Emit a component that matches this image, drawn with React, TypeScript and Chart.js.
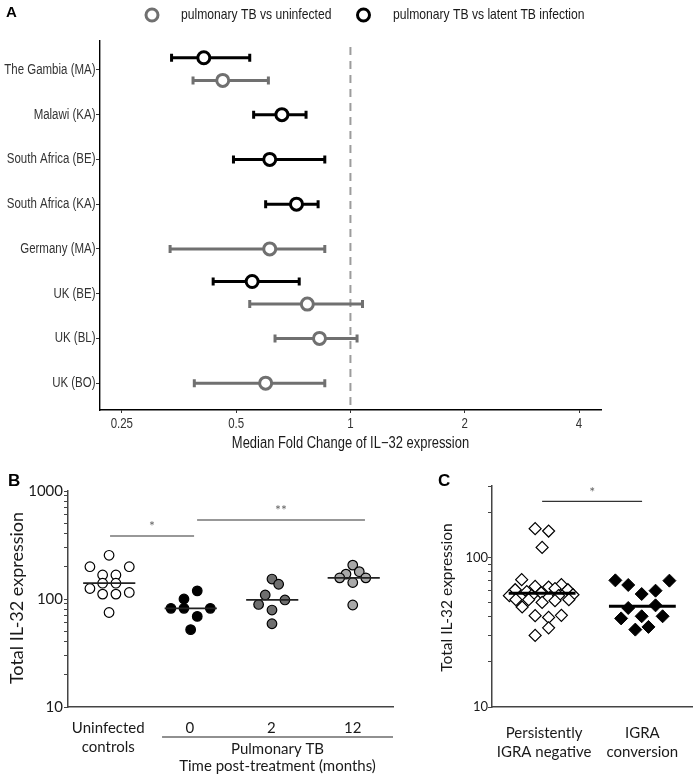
import React, { useEffect, useRef } from 'react';
import { Chart, registerables } from 'chart.js';

Chart.register(...registerables);

const NARROW = "'Liberation Sans', Arial, sans-serif";
const SANS = "Lato, 'Open Sans', sans-serif";
const BOLD = "'Liberation Sans', Arial, sans-serif";

// ---------------- Panel A data ----------------
const cohorts = [
  'The Gambia (MA)', 'Malawi (KA)', 'South Africa (BE)', 'South Africa (KA)',
  'Germany (MA)', 'UK (BE)', 'UK (BL)', 'UK (BO)',
];
const latentMedian = [0.411, 0.66, 0.613, 0.721, null, 0.551, null, null];
const latentLow = [0.338, 0.556, 0.492, 0.598, null, 0.435, null, null];
const latentHigh = [0.543, 0.764, 0.856, 0.822, null, 0.733, null, null];
const uninfMedian = [0.461, null, null, null, 0.613, 0.77, 0.829, 0.598];
const uninfLow = [0.385, null, null, null, 0.335, 0.543, 0.633, 0.388];
const uninfHigh = [0.608, null, null, null, 0.856, 1.076, 1.041, 0.856];
const foldTicks = [0.25, 0.5, 1, 2, 4];
const legendA = ['pulmonary TB vs uninfected', 'pulmonary TB vs latent TB infection'];

// ---------------- Panel B data ----------------
const bCategories: (string | string[])[] = [['Uninfected', 'controls'], '0', '2', '12'];
const bUninfected = [254, 199, 199, 167, 167, 140, 140, 125, 111, 111, 115, 75];
const bUninfectedJitter = [0.01, -0.225, 0.258, -0.069, 0.094, -0.069, 0.094, -0.225, -0.069, 0.094, 0.258, 0.01];
const bMonth0 = [82, 100, 119, 82, 82, 69, 52];
const bMonth0Jitter = [-0.231, -0.071, 0.092, -0.071, 0.252, 0.092, 0.011];
const bMonth2 = [153, 137, 109, 89, 98, 79, 59];
const bMonth2Jitter = [0.009, 0.091, -0.074, -0.155, 0.168, 0.009, 0.009];
const bMonth12 = [206, 170, 179, 157, 157, 142, 88];
const bMonth12Jitter = [0, -0.083, 0.08, -0.16, 0.16, 0, 0];
const bMedians = [140, 82, 98, 157];
const bTickLabels = [10, 100, 1000];
const bSig = [
  { from: 0.022, to: 1.053, level: 383, text: '*' },
  { from: 1.09, to: 3.15, level: 539, text: '**' },
];

// ---------------- Panel C data ----------------
const cCategories: string[][] = [['Persistently', 'IGRA negative'], ['IGRA', 'conversion']];
const cNegative = [155.5, 150, 116.6, 71, 64, 63.4, 65.7, 60.8, 60.8, 61.8, 59, 58, 55.5, 56.3, 55.5, 55.5,
  52.2, 52.2, 50, 51.4, 52.2, 46.6, 40.8, 39.7, 41, 33.8, 30.1];
const cNegativeJitter = [-0.091, 0.046, -0.02, -0.228, -0.091, 0.046, 0.176, -0.294, 0.242, 0.111, -0.176, -0.029,
  -0.353, 0.294, -0.127, 0.147, -0.287, -0.157, -0.02, 0.111, 0.252, -0.223, -0.091, 0.046, 0.176, 0.046, -0.091];
const cConversion = [70.2, 65.4, 69.9, 56.9, 59.9, 45.9, 47.8, 39.1, 40.4, 40.4, 32.9, 34.3];
const cConversionJitter = [-0.275, -0.144, 0.275, -0.007, 0.134, -0.144, 0.134, -0.216, -0.007, 0.206, -0.072, 0.062];
const cMedians = [57.5, 47.1];
const cTickLabels = [10, 100];
const cSig = { from: -0.02, to: 0.997, level: 236.6, text: '*' };

const GRAY_A = '#707070';

function logTicks(min: number, max: number) {
  const out: number[] = [];
  for (let d = min; d < max; d *= 10) {
    for (let k = 1; k <= 9; k++) {
      const v = d * k;
      if (v <= max) out.push(v);
    }
  }
  if (out[out.length - 1] !== max) out.push(max);
  return out;
}

// draws text with a condensed (narrow) look
function narrowText(ctx: CanvasRenderingContext2D, text: string, x: number, y: number, align: CanvasTextAlign, size: number, color: string) {
  ctx.save();
  ctx.font = `${size}px ${NARROW}`;
  ctx.fillStyle = color;
  ctx.textBaseline = 'middle';
  ctx.textAlign = align;
  ctx.translate(x, y);
  ctx.scale(0.82, 1);
  ctx.fillText(text, 0, 0);
  ctx.restore();
}

// ---------------- Panel A ----------------
function buildA(canvas: HTMLCanvasElement) {
  const latentPts: any[] = [];
  const uninfPts: any[] = [];
  cohorts.forEach((_, i) => {
    const both = latentMedian[i] != null && uninfMedian[i] != null;
    if (latentMedian[i] != null) latentPts.push({ x: latentMedian[i], y: i + (both ? -0.272 : 0), lo: latentLow[i], hi: latentHigh[i] });
    if (uninfMedian[i] != null) uninfPts.push({ x: uninfMedian[i], y: i + (both ? 0.234 : 0), lo: uninfLow[i], hi: uninfHigh[i] });
  });

  const plugin = {
    id: 'panelA',
    beforeDatasetsDraw(chart: any) {
      const { ctx, chartArea, scales } = chart;
      const x = scales.x, y = scales.y;
      ctx.save();
      ctx.strokeStyle = '#9c9c9c';
      ctx.lineWidth = 2;
      ctx.setLineDash([8, 6]);
      const px = x.getPixelForValue(1);
      ctx.beginPath();
      ctx.moveTo(px, chartArea.top + 6);
      ctx.lineTo(px, chartArea.bottom);
      ctx.stroke();
      ctx.restore();
      chart.data.datasets.forEach((ds: any) => {
        ctx.save();
        ctx.strokeStyle = ds.pointBorderColor;
        ctx.lineWidth = 3;
        ds.data.forEach((p: any) => {
          const py = y.getPixelForValue(p.y);
          const x1 = x.getPixelForValue(p.lo);
          const x2 = x.getPixelForValue(p.hi);
          ctx.beginPath();
          ctx.moveTo(x1, py); ctx.lineTo(x2, py);
          ctx.moveTo(x1, py - 4); ctx.lineTo(x1, py + 4);
          ctx.moveTo(x2, py - 4); ctx.lineTo(x2, py + 4);
          ctx.stroke();
        });
        ctx.restore();
      });
    },
    afterDraw(chart: any) {
      const { ctx, chartArea, scales } = chart;
      const x = scales.x, y = scales.y;
      ctx.save();
      ctx.fillStyle = '#000';
      ctx.font = `bold 15px ${BOLD}`;
      ctx.textAlign = 'left';
      ctx.textBaseline = 'alphabetic';
      ctx.fillText('A', 6, 17);
      // axis tick labels
      cohorts.forEach((c, i) => narrowText(ctx, c, chartArea.left - 4.5, y.getPixelForValue(i), 'right', 14, '#333'));
      foldTicks.forEach((v) => narrowText(ctx, String(v), x.getPixelForValue(v), chartArea.bottom + 14, 'center', 14, '#333'));
      // legend
      const items = [
        { cx: 152, tx: 181, color: GRAY_A, text: legendA[0] },
        { cx: 363.5, tx: 393, color: '#000', text: legendA[1] },
      ];
      items.forEach((it) => {
        ctx.beginPath();
        ctx.arc(it.cx, 15, 6, 0, Math.PI * 2);
        ctx.fillStyle = '#fff';
        ctx.fill();
        ctx.lineWidth = 3;
        ctx.strokeStyle = it.color;
        ctx.stroke();
        narrowText(ctx, it.text, it.tx, 15, 'left', 14.8, '#1a1a1a');
      });
      narrowText(ctx, 'Median Fold Change of IL\u221232 expression', (chartArea.left + chartArea.right) / 2, 444, 'center', 15.8, '#1a1a1a');
      ctx.restore();
    },
  };

  return new Chart(canvas, {
    type: 'scatter',
    data: {
      datasets: [
        {
          label: legendA[0], data: uninfPts, pointRadius: 6, pointBorderWidth: 3,
          pointBackgroundColor: '#fff', pointBorderColor: GRAY_A,
        } as any,
        {
          label: legendA[1], data: latentPts, pointRadius: 6, pointBorderWidth: 3,
          pointBackgroundColor: '#fff', pointBorderColor: '#000',
        } as any,
      ],
    },
    options: {
      animation: false,
      responsive: false,
      events: [],
      layout: { padding: { top: 41, right: 99, left: 0, bottom: 0 } },
      plugins: { legend: { display: false }, tooltip: { enabled: false } },
      scales: {
        x: {
          type: 'logarithmic', min: 0.219, max: 4.57,
          afterBuildTicks: (s: any) => { s.ticks = foldTicks.map((v) => ({ value: v })); },
          afterFit: (s: any) => { s.height = 50; },
          ticks: { display: false, autoSkip: false },
          grid: { display: true, drawOnChartArea: false, drawTicks: true, tickLength: 3, tickColor: '#333', tickWidth: 1 },
          border: { display: true, color: '#000', width: 1.4 },
        },
        y: {
          type: 'linear', reverse: true, min: -0.646, max: 7.6,
          afterBuildTicks: (s: any) => { s.ticks = cohorts.map((_, i) => ({ value: i })); },
          afterFit: (s: any) => { s.width = 100; },
          ticks: { display: false, autoSkip: false },
          grid: { display: true, drawOnChartArea: false, drawTicks: true, tickLength: 4, tickColor: '#333', tickWidth: 1 },
          border: { display: true, color: '#000', width: 1.4 },
        },
      },
    } as any,
    plugins: [plugin],
  });
}

// ---------------- Panel B ----------------
function buildB(canvas: HTMLCanvasElement) {
  const mk = (vals: number[], jit: number[], idx: number) => vals.map((v, i) => ({ x: idx + jit[i], y: v }));
  const common = { pointRadius: 4.8, pointBorderWidth: 1.2, pointBorderColor: '#000' };
  const plugin = {
    id: 'panelB',
    afterDatasetsDraw(chart: any) {
      const { ctx, scales } = chart;
      const x = scales.x, y = scales.y;
      ctx.save();
      ctx.strokeStyle = '#222';
      ctx.lineWidth = 1.8;
      bMedians.forEach((m, i) => {
        const py = y.getPixelForValue(m);
        ctx.beginPath();
        ctx.moveTo(x.getPixelForValue(i + 0.012 - 0.32), py);
        ctx.lineTo(x.getPixelForValue(i + 0.012 + 0.32), py);
        ctx.stroke();
      });
      ctx.restore();
    },
    afterDraw(chart: any) {
      const { ctx, chartArea, scales } = chart;
      const x = scales.x, y = scales.y;
      ctx.save();
      ctx.fillStyle = '#000';
      ctx.font = `bold 17px ${BOLD}`;
      ctx.textAlign = 'left';
      ctx.textBaseline = 'alphabetic';
      ctx.fillText('B', 8, 26);
      bSig.forEach((s) => {
        const py = y.getPixelForValue(s.level);
        ctx.strokeStyle = '#333';
        ctx.lineWidth = 1.2;
        ctx.beginPath();
        ctx.moveTo(x.getPixelForValue(s.from), py);
        ctx.lineTo(x.getPixelForValue(s.to), py);
        ctx.stroke();
        ctx.fillStyle = '#666';
        ctx.font = `14px ${SANS}`;
        ctx.textAlign = 'center';
        ctx.textBaseline = 'middle';
        ctx.fillText(s.text, x.getPixelForValue((s.from + s.to) / 2), py - 10);
      });
      const ly = chartArea.bottom + 30;
      ctx.strokeStyle = '#222';
      ctx.lineWidth = 1.2;
      ctx.beginPath();
      ctx.moveTo(x.getPixelForValue(0.66), ly);
      ctx.lineTo(chartArea.right, ly);
      ctx.stroke();
      const mid = (x.getPixelForValue(0.66) + chartArea.right) / 2;
      ctx.fillStyle = '#1a1a1a';
      ctx.font = `15px ${SANS}`;
      ctx.textAlign = 'center';
      ctx.textBaseline = 'middle';
      ctx.fillText('Pulmonary TB', mid, ly + 12);
      ctx.fillText('Time post-treatment (months)', mid, ly + 29);
      ctx.save();
      ctx.translate(17, (chartArea.top + chartArea.bottom) / 2 - 1);
      ctx.rotate(-Math.PI / 2);
      ctx.font = `18px ${SANS}`;
      ctx.fillText('Total IL-32 expression', 0, 0);
      ctx.restore();
      ctx.restore();
    },
  };
  return new Chart(canvas, {
    type: 'scatter',
    data: {
      datasets: [
        { data: mk(bUninfected, bUninfectedJitter, 0), pointBackgroundColor: '#fff', ...common } as any,
        { data: mk(bMonth0, bMonth0Jitter, 1), pointBackgroundColor: '#000', ...common } as any,
        { data: mk(bMonth2, bMonth2Jitter, 2), pointBackgroundColor: '#6e6e6e', ...common } as any,
        { data: mk(bMonth12, bMonth12Jitter, 3), pointBackgroundColor: '#a8a8a8', ...common } as any,
      ],
    },
    options: {
      animation: false,
      responsive: false,
      events: [],
      layout: { padding: { top: 31, right: 27, left: 0, bottom: 0 } },
      plugins: { legend: { display: false }, tooltip: { enabled: false } },
      scales: {
        x: {
          type: 'linear', min: -0.494, max: 3.494,
          afterBuildTicks: (s: any) => { s.ticks = bCategories.map((_, i) => ({ value: i })); },
          afterFit: (s: any) => { s.height = 71; },
          ticks: { callback: (v: any) => bCategories[v], font: { family: SANS, size: 15, lineHeight: 1.267 }, color: '#1a1a1a', padding: 3.5, autoSkip: false, maxRotation: 0 },
          grid: { display: false },
          border: { display: true, color: '#444', width: 1.5 },
        },
        y: {
          type: 'logarithmic', min: 10, max: 1000,
          afterBuildTicks: (s: any) => { s.ticks = logTicks(10, 1000).map((v) => ({ value: v, major: bTickLabels.includes(v) })); },
          afterFit: (s: any) => { s.width = 68; },
          ticks: { callback: (v: any) => (bTickLabels.includes(v) ? String(v) : ''), font: { family: SANS, size: 15 }, color: '#1a1a1a', padding: 1, autoSkip: false },
          grid: { display: true, drawOnChartArea: false, drawTicks: true, tickLength: 4, tickColor: '#444', tickWidth: 1 },
          border: { display: true, color: '#444', width: 1.5 },
        },
      },
    } as any,
    plugins: [plugin],
  });
}

// ---------------- Panel C ----------------
function buildC(canvas: HTMLCanvasElement) {
  const mk = (vals: number[], jit: number[], idx: number) => vals.map((v, i) => ({ x: idx + jit[i], y: v }));
  const plugin = {
    id: 'panelC',
    afterDatasetsDraw(chart: any) {
      const { ctx, scales } = chart;
      const x = scales.x, y = scales.y;
      ctx.save();
      ctx.strokeStyle = '#000';
      ctx.lineWidth = 3;
      cMedians.forEach((m, i) => {
        const py = y.getPixelForValue(m);
        const c = i === 0 ? -0.02 : 1.0;
        ctx.beginPath();
        ctx.moveTo(x.getPixelForValue(c - 0.34), py);
        ctx.lineTo(x.getPixelForValue(c + 0.34), py);
        ctx.stroke();
      });
      ctx.restore();
    },
    afterDraw(chart: any) {
      const { ctx, chartArea, scales } = chart;
      const x = scales.x, y = scales.y;
      ctx.save();
      ctx.fillStyle = '#000';
      ctx.font = `bold 17px ${BOLD}`;
      ctx.textAlign = 'left';
      ctx.textBaseline = 'alphabetic';
      ctx.fillText('C', 18, 26);
      const py = y.getPixelForValue(cSig.level);
      ctx.strokeStyle = '#333';
      ctx.lineWidth = 1.2;
      ctx.beginPath();
      ctx.moveTo(x.getPixelForValue(cSig.from), py);
      ctx.lineTo(x.getPixelForValue(cSig.to), py);
      ctx.stroke();
      ctx.fillStyle = '#666';
      ctx.font = `14px ${SANS}`;
      ctx.textAlign = 'center';
      ctx.textBaseline = 'middle';
      ctx.fillText(cSig.text, x.getPixelForValue((cSig.from + cSig.to) / 2), py - 9);
      ctx.save();
      ctx.translate(27, (chartArea.top + chartArea.bottom) / 2 + 1);
      ctx.rotate(-Math.PI / 2);
      ctx.fillStyle = '#1a1a1a';
      ctx.font = `15.5px ${SANS}`;
      ctx.fillText('Total IL-32 expression', 0, 0);
      ctx.restore();
      ctx.restore();
    },
  };
  return new Chart(canvas, {
    type: 'scatter',
    data: {
      datasets: [
        { data: mk(cNegative, cNegativeJitter, 0), pointStyle: 'rectRot', pointRadius: 6, pointBorderWidth: 1.2, pointBackgroundColor: '#fff', pointBorderColor: '#000' } as any,
        { data: mk(cConversion, cConversionJitter, 1), pointStyle: 'rectRot', pointRadius: 6.5, pointBorderWidth: 1, pointBackgroundColor: '#000', pointBorderColor: '#000' } as any,
      ],
    },
    options: {
      animation: false,
      responsive: false,
      events: [],
      layout: { padding: { top: 26, right: 0, left: 0, bottom: 0 } },
      plugins: { legend: { display: false }, tooltip: { enabled: false } },
      scales: {
        x: {
          type: 'linear', min: -0.53, max: 1.51,
          afterBuildTicks: (s: any) => { s.ticks = cCategories.map((_, i) => ({ value: i })); },
          afterFit: (s: any) => { s.height = 71; },
          ticks: { callback: (v: any) => cCategories[v], font: { family: SANS, size: 15, lineHeight: 1.267 }, color: '#1a1a1a', padding: 8.5, autoSkip: false, maxRotation: 0 },
          grid: { display: false },
          border: { display: true, color: '#444', width: 1.5 },
        },
        y: {
          type: 'logarithmic', min: 10, max: 300,
          afterBuildTicks: (s: any) => { s.ticks = logTicks(10, 300).map((v) => ({ value: v, major: cTickLabels.includes(v) })); },
          afterFit: (s: any) => { s.width = 72; },
          ticks: { callback: (v: any) => (cTickLabels.includes(v) ? String(v) : ''), font: { family: SANS, size: 13 }, color: '#1a1a1a', padding: 0, autoSkip: false },
          grid: { display: true, drawOnChartArea: false, drawTicks: true, tickLength: 4, tickColor: '#444', tickWidth: 1 },
          border: { display: true, color: '#444', width: 1.5 },
        },
      },
    } as any,
    plugins: [plugin],
  });
}

export default function App() {
  const aRef = useRef<HTMLCanvasElement>(null);
  const bRef = useRef<HTMLCanvasElement>(null);
  const cRef = useRef<HTMLCanvasElement>(null);
  useEffect(() => {
    const charts = [buildA(aRef.current!), buildB(bRef.current!), buildC(cRef.current!)];
    return () => charts.forEach((c) => c.destroy());
  }, []);
  return (
    <div style={{ position: 'absolute', left: 0, top: 0, width: 700, height: 778, background: '#fff', overflow: 'hidden' }}>
      <canvas ref={aRef} width={700} height={460} style={{ position: 'absolute', left: 0, top: 0, width: 700, height: 460 }} />
      <canvas ref={bRef} width={420} height={318} style={{ position: 'absolute', left: 0, top: 460, width: 420, height: 318 }} />
      <canvas ref={cRef} width={280} height={318} style={{ position: 'absolute', left: 420, top: 460, width: 280, height: 318 }} />
    </div>
  );
}
